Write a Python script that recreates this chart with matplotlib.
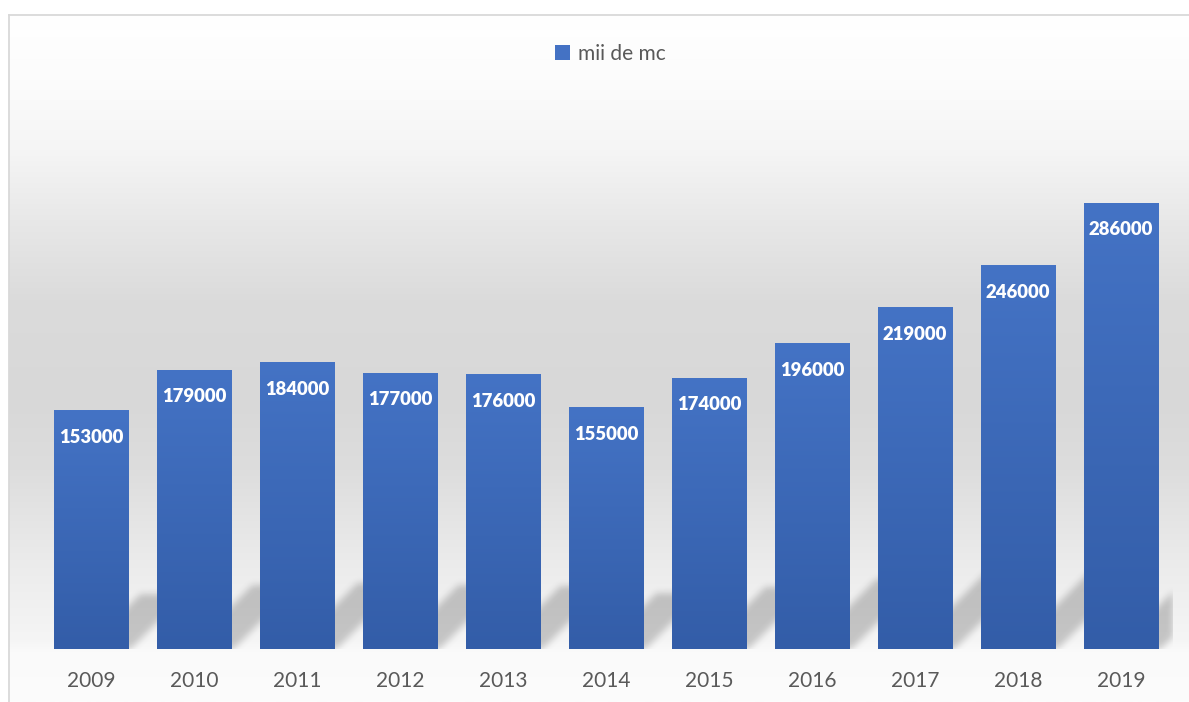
import numpy as np
import matplotlib
matplotlib.use("Agg")
import matplotlib.pyplot as plt
from matplotlib.patches import Patch

years = ["2009", "2010", "2011", "2012", "2013", "2014", "2015", "2016", "2017", "2018", "2019"]
values = [153000, 179000, 184000, 177000, 176000, 155000, 174000, 196000, 219000, 246000, 286000]
series_name = "mii de mc"

W, H, DPI = 1189, 702, 100
fig = plt.figure(figsize=(W / DPI, H / DPI), dpi=DPI)
fig.patch.set_facecolor("white")

# chart frame with vertical background gradient (white -> grey -> white)
bg = fig.add_axes([9 / W, 0, 1 - 9 / W, 687 / H])
stops_px = [15, 80, 150, 220, 300, 400, 470, 560, 640, 652, 702]
stops_c = [255, 252, 245, 232, 219, 216, 221, 235, 245, 250, 252]
ys = np.arange(15, 703)
g = np.interp(ys, stops_px, stops_c) / 255.0
grad = np.dstack([g, g, g]).reshape(-1, 1, 3)
bg.imshow(grad, aspect="auto", extent=[0, 1, 0, 1], interpolation="bilinear")
bg.set_xticks([])
bg.set_yticks([])
for s in ["right", "bottom"]:
    bg.spines[s].set_visible(False)
for s in ["left", "top"]:
    bg.spines[s].set_color("#d9d9d9")
    bg.spines[s].set_linewidth(1.3)

ax = fig.add_axes([39.5 / W, (H - 649) / H, 1133 / W, 546 / H])
ax.patch.set_alpha(0)
ymax = 350000
ax.set_xlim(-0.5, len(years) - 0.5)
ax.set_ylim(0, ymax)
x = np.arange(len(years))
bw = 0.72

# blurred diagonal shadows behind bars
pos = ax.get_position()
nx = int(round(pos.width * W))
ny = int(round(pos.height * H))
px_per_x = nx / (len(years))
px_per_y = ny / ymax
XX, YY = np.meshgrid(np.arange(nx) + 0.5, np.arange(ny) + 0.5)
mask = np.zeros((ny, nx))
for xi, v in zip(x, values):
    xl = (xi - bw / 2 + 0.5) * px_per_x
    xr = (xi + bw / 2 + 0.5) * px_per_x
    dy = 0.23 * v * px_per_y
    inside = (YY <= dy) & (XX >= xl + 0.42 * (xr - xl) + YY) & (XX <= xr + 2 + YY)
    mask[inside] = 1.0
sig = 3.5
kx = np.arange(-12, 13)
kern = np.exp(-kx ** 2 / (2 * sig ** 2))
kern /= kern.sum()
mask = np.apply_along_axis(lambda r: np.convolve(r, kern, mode="same"), 1, mask)
mask = np.apply_along_axis(lambda c: np.convolve(c, kern, mode="same"), 0, mask)
shadow = np.zeros((ny, nx, 4))
shadow[..., 3] = mask * 0.2
ax.imshow(shadow, origin="lower", extent=[-0.5, len(years) - 0.5, 0, ymax],
          aspect="auto", zorder=1, interpolation="bilinear")

# bars with vertical gradient
bars = ax.bar(x, values, width=bw, color="#4472c4", zorder=2, linewidth=0)
top_c = np.array([68, 115, 197]) / 255.0
bot_c = np.array([51, 93, 168]) / 255.0
t = np.linspace(0, 1, 200)[:, None]
bar_grad = (bot_c * (1 - t) + top_c * t).reshape(-1, 1, 3)
for b in bars:
    im = ax.imshow(bar_grad, origin="lower", aspect="auto", zorder=3,
                   extent=[b.get_x(), b.get_x() + b.get_width(), 0, b.get_height()])
    im.set_clip_path(b)
ax.set_xlim(-0.5, len(years) - 0.5)
ax.set_ylim(0, ymax)

for xi, v in zip(x, values):
    ax.annotate(str(v), (xi, v), xytext=(0, -19.5), textcoords="offset points",
                ha="center", va="center", color="white", fontsize=13.3,
                fontweight="heavy", family="Lato", zorder=5)

ax.set_xticks(x)
ax.set_xticklabels(years, fontsize=15, color="#595959", family="Lato")
ax.tick_params(axis="x", length=0, pad=15.5)
ax.set_yticks([])
for s in ax.spines.values():
    s.set_visible(False)

leg = fig.legend(handles=[Patch(facecolor="#4472c4", edgecolor="none", label=series_name)],
                 loc="center", bbox_to_anchor=(610 / W, (H - 54) / H), frameon=False,
                 handlelength=0.75, handleheight=0.75, handletextpad=0.35,
                 prop={"family": "Lato", "size": 15})
for txt in leg.get_texts():
    txt.set_color("#595959")

plt.savefig("out.png", dpi=DPI)
